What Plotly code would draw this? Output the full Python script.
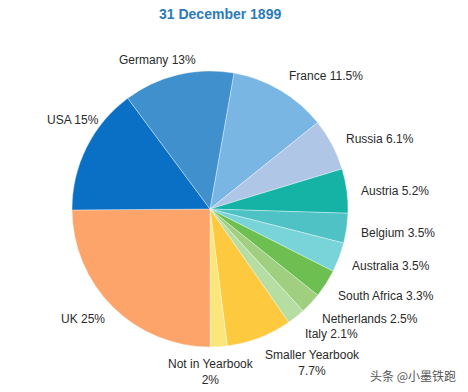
import math
import plotly.graph_objects as go

# ---- data ----
labels = ["France", "Russia", "Austria", "Belgium", "Australia", "South Africa",
          "Netherlands", "Italy", "Smaller Yearbook", "Not in Yearbook", "UK", "USA", "Germany"]
values = [11.5, 6.1, 5.2, 3.5, 3.5, 3.3, 2.5, 2.1, 7.7, 2, 25, 15, 13]
value_text = ["11.5%", "6.1%", "5.2%", "3.5%", "3.5%", "3.3%", "2.5%", "2.1%",
              "7.7%", "2%", "25%", "15%", "13%"]
title_text = "31 December 1899"

# ---- style ----
colors = ["#7ab6e4", "#b0c6e6", "#15b2a6", "#4ec2c4", "#78d4d8", "#6cbf50",
          "#9fcf7f", "#b6dea3", "#fdc93f", "#fae67a", "#fca46a", "#0a70c6", "#3f90cc"]
W, H = 468, 392
CX, CY, R = 210, 209, 138
ROT = 10
# label placement tweaks: (angle nudge in degrees, radius factor, xanchor, yanchor)
place = {
    "France": (-0.5, 1.114, "left", "middle"),
    "Russia": (0.2, 1.096, "left", "middle"),
    "Austria": (0.7, 1.088, "left", "middle"),
    "Belgium": (1.2, 1.094, "left", "middle"),
    "Australia": (1.6, 1.095, "left", "middle"),
    "South Africa": (1.8, 1.11, "left", "middle"),
    "Netherlands": (1.8, 1.127, "left", "middle"),
    "Italy": (1.9, 1.129, "left", "middle"),
    "Smaller Yearbook": (-0.15, 1.064, "left", "top"),
    "Not in Yearbook": (3.2, 1.058, "center", "top"),
    "UK": (-1.7, 1.092, "right", "middle"),
    "USA": (12.7, 1.02, "right", "middle"),
    "Germany": (-7.4, 1.085, "center", "bottom"),
}

fig = go.Figure(go.Pie(
    labels=labels, values=values, sort=False, direction="clockwise", rotation=ROT,
    marker=dict(colors=colors, line=dict(color="rgba(255,255,255,0.6)", width=0.6)),
    textinfo="none", hoverinfo="label+value", showlegend=False,
    domain=dict(x=[(CX - R) / W, (CX + R) / W], y=[(H - CY - R) / H, (H - CY + R) / H]),
))

total = sum(values)
cum = 0.0
annotations = []
for lab, v, vt in zip(labels, values, value_text):
    mid = ROT + (cum + v / 2) / total * 360
    cum += v
    nudge, rf, xa, ya = place[lab]
    a = math.radians(mid + nudge)
    px = CX + R * rf * math.sin(a)
    py = CY - R * rf * math.cos(a)
    if lab in ("Smaller Yearbook", "Not in Yearbook"):
        txt = f"{lab}<br>{vt}"
    else:
        txt = f"{lab} {vt}"
    annotations.append(dict(
        x=px / W, y=1 - py / H, xref="paper", yref="paper", text=txt,
        showarrow=False, xanchor=xa, yanchor=ya, align="center",
        font=dict(family="Liberation Sans, Arial, sans-serif", size=12, color="#2a2a2a"),
    ))

annotations.append(dict(
    x=220 / W, y=1 - 14 / H, xref="paper", yref="paper", text=f"<b>{title_text}</b>",
    showarrow=False, xanchor="center", yanchor="middle",
    font=dict(family="Liberation Sans, Arial, sans-serif", size=14, color="#2b7bb9"),
))
annotations.append(dict(
    x=458 / W, y=1 - 375 / H, xref="paper", yref="paper", text="头条 @小墨铁跑",
    showarrow=False, xanchor="right", yanchor="middle",
    font=dict(family="Noto Sans CJK SC, sans-serif", size=12, color="#555555"),
))

fig.update_layout(
    width=W, height=H, margin=dict(l=0, r=0, t=0, b=0),
    paper_bgcolor="white", plot_bgcolor="white", annotations=annotations,
)
fig.write_html("out.html")
